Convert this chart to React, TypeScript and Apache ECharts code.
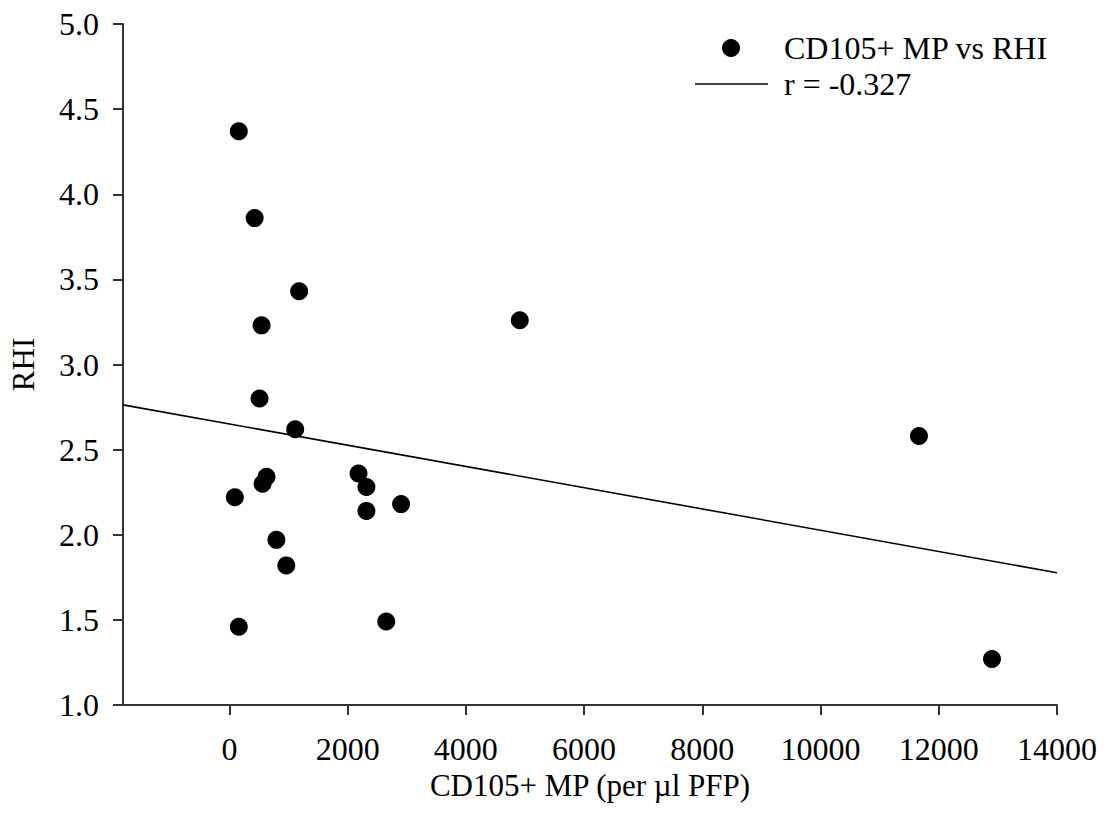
import React, { useEffect, useRef } from "react";
import * as echarts from "echarts";

// Scatter data: CD105+ MP (per µl PFP) vs RHI
const mpValues = [159, 427, 1180, 544, 4912, 510, 1113, 11665, 92, 628, 561, 2184, 2318, 2318, 2904, 795, 962, 159, 2653, 12900];
const rhiValues = [4.37, 3.86, 3.43, 3.23, 3.26, 2.8, 2.62, 2.58, 2.22, 2.34, 2.3, 2.36, 2.28, 2.14, 2.18, 1.97, 1.82, 1.46, 1.49, 1.27];

// Regression line end points
const fitX = [-1800, 14000];
const fitY = [2.763, 1.777];

// Axis ticks
const xTicks = [0, 2000, 4000, 6000, 8000, 10000, 12000, 14000];
const xMin = -1800;
const xMax = 14000;
const yMin = 1;
const yMax = 5;
const yStep = 0.5;

const seriesName = "CD105+ MP vs RHI";
const fitName = "r = -0.327";
const xName = "CD105+ MP (per µl PFP)";
const yName = "RHI";

const FONT = "Liberation Serif";

export default function App() {
  const ref = useRef<HTMLDivElement>(null);
  useEffect(() => {
    if (!ref.current) return;
    const chart = echarts.init(ref.current, null, { renderer: "svg" });
    const points = mpValues.map((x, i) => [x, rhiValues[i]]);
    const fit = fitX.map((x, i) => [x, fitY[i]]);
    const axisLineStyle = { color: "#333", width: 2 };
    chart.setOption({
      animation: false,
      backgroundColor: "#fff",
      textStyle: { fontFamily: FONT },
      grid: { left: 113, right: 52, top: 24, bottom: 111, containLabel: false },
      xAxis: {
        type: "value",
        min: xMin,
        max: xMax,
        name: xName,
        nameLocation: "middle",
        nameGap: 54,
        nameTextStyle: { fontFamily: FONT, fontSize: 31, color: "#000" },
        axisLine: { show: true, onZero: false, lineStyle: axisLineStyle },
        axisTick: { show: true, length: 10, inside: false, lineStyle: axisLineStyle, customValues: xTicks },
        axisLabel: {
          customValues: xTicks,
          fontFamily: FONT,
          fontSize: 32,
          color: "#000",
          margin: 28,
          formatter: (v: number) => String(v),
        },
        splitLine: { show: false },
      },
      yAxis: {
        type: "value",
        min: yMin,
        max: yMax,
        interval: yStep,
        name: yName,
        nameLocation: "middle",
        nameGap: 84,
        nameRotate: 90,
        nameTextStyle: { fontFamily: FONT, fontSize: 31, color: "#000" },
        axisLine: { show: true, onZero: false, lineStyle: axisLineStyle },
        axisTick: { show: true, length: 10, inside: false, lineStyle: axisLineStyle },
        axisLabel: {
          fontFamily: FONT,
          fontSize: 32,
          color: "#000",
          margin: 24,
          formatter: (v: number) => v.toFixed(1),
        },
        splitLine: { show: false },
      },
      series: [
        {
          name: fitName,
          type: "line",
          data: fit,
          showSymbol: false,
          symbol: "none",
          lineStyle: { color: "#000", width: 1.6 },
          silent: true,
          z: 1,
        },
        {
          name: seriesName,
          type: "scatter",
          data: points,
          symbol: "circle",
          symbolSize: 18,
          itemStyle: { color: "#000", opacity: 1 },
          z: 2,
        },
      ],
      graphic: [
        { type: "circle", shape: { cx: 731, cy: 48, r: 9 }, style: { fill: "#000" } },
        {
          type: "text",
          x: 784,
          y: 48,
          style: { text: seriesName, fontFamily: FONT, fontSize: 32, fill: "#000", verticalAlign: "middle" },
        },
        { type: "line", shape: { x1: 695, y1: 84, x2: 768, y2: 84 }, style: { stroke: "#000", lineWidth: 1.6 } },
        {
          type: "text",
          x: 784,
          y: 84,
          style: { text: fitName, fontFamily: FONT, fontSize: 32, fill: "#000", verticalAlign: "middle" },
        },
      ],
    });
    return () => chart.dispose();
  }, []);
  return (
    <div
      ref={ref}
      style={{ position: "absolute", left: 0, top: 0, width: 1109, height: 816, background: "#fff" }}
    />
  );
}
